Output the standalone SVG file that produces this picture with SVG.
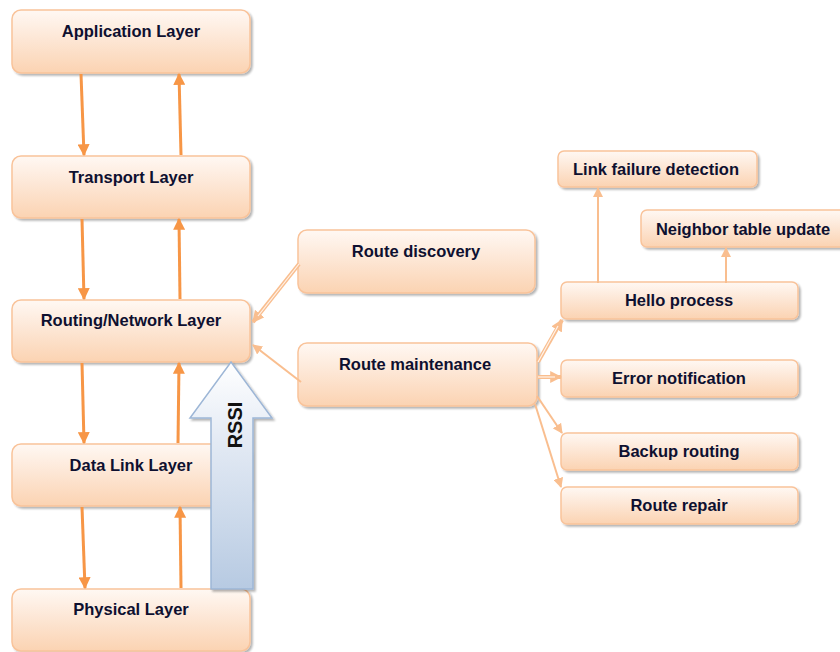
<svg xmlns="http://www.w3.org/2000/svg" width="840" height="652" viewBox="0 0 840 652">
  <defs>
    <linearGradient id="boxFill" x1="0" y1="0" x2="0" y2="1">
      <stop offset="0" stop-color="#FFF8F3"/>
      <stop offset="0.45" stop-color="#FDE7D6"/>
      <stop offset="1" stop-color="#FBD3B2"/>
    </linearGradient>
    <linearGradient id="rssiFill" x1="0" y1="0" x2="0" y2="1">
      <stop offset="0" stop-color="#FFFFFF"/>
      <stop offset="0.35" stop-color="#E3EAF4"/>
      <stop offset="1" stop-color="#B7CAE2"/>
    </linearGradient>
    <filter id="shadow" x="-10%" y="-20%" width="120%" height="150%">
      <feGaussianBlur in="SourceAlpha" stdDeviation="1.2"/>
      <feOffset dx="1.5" dy="2" result="b"/>
      <feComponentTransfer><feFuncA type="linear" slope="0.3"/></feComponentTransfer>
      <feMerge><feMergeNode/><feMergeNode in="SourceGraphic"/></feMerge>
    </filter>
    <marker id="headLayer" viewBox="0 0 10 10" refX="9" refY="5" markerWidth="4" markerHeight="4" orient="auto" markerUnits="strokeWidth">
      <path d="M0,0 L10,5 L0,10 Z" fill="#F79646"/>
    </marker>
    <marker id="headLight" viewBox="0 0 10 10" refX="9" refY="5" markerWidth="5" markerHeight="5" orient="auto" markerUnits="strokeWidth">
      <path d="M0,0 L10,5 L0,10 Z" fill="#F9BE8F"/>
    </marker>
    <marker id="headHollow" viewBox="0 0 10 10" refX="9" refY="5" markerWidth="3" markerHeight="3" orient="auto" markerUnits="strokeWidth">
      <path d="M0,0 L10,5 L0,10 Z" fill="#F9BE8F"/>
    </marker>
  </defs>
  <style>
    .box { fill: url(#boxFill); stroke: #F9C39A; stroke-width: 1.5; filter: url(#shadow); }
    .lbl { font-family: "Liberation Sans", Arial, sans-serif; font-weight: bold; font-size: 16.5px; fill: #0E1030; text-anchor: middle; }
    .layer { stroke: #F79646; stroke-width: 3; fill: none; marker-end: url(#headLayer); }
    .thin { stroke: #F9BE8F; stroke-width: 2; fill: none; marker-end: url(#headLight); }
    .dbl { stroke: #F9BE8F; stroke-width: 4; fill: none; marker-end: url(#headHollow); }
    .dblIn { stroke: #FFF3EA; stroke-width: 1.2; fill: none; }
  </style>

  <!-- protocol stack -->
  <g id="application-layer">
    <rect class="box" x="12" y="10" width="238" height="63" rx="9"/>
    <text class="lbl" x="131" y="37">Application Layer</text>
  </g>
  <g id="transport-layer">
    <rect class="box" x="12" y="156" width="238" height="62" rx="9"/>
    <text class="lbl" x="131" y="183">Transport Layer</text>
  </g>
  <g id="network-layer">
    <rect class="box" x="12" y="300" width="238" height="62" rx="9"/>
    <text class="lbl" x="131" y="326">Routing/Network Layer</text>
  </g>
  <g id="datalink-layer">
    <rect class="box" x="12" y="444" width="238" height="62" rx="9"/>
    <text class="lbl" x="131" y="471">Data Link Layer</text>
  </g>
  <g id="physical-layer">
    <rect class="box" x="12" y="589" width="238" height="62" rx="9"/>
    <text class="lbl" x="131" y="615">Physical Layer</text>
  </g>

  <!-- routing functions -->
  <g id="route-discovery">
    <rect class="box" x="298" y="230" width="237" height="63" rx="9"/>
    <text class="lbl" x="416" y="257">Route discovery</text>
  </g>
  <g id="route-maintenance">
    <rect class="box" x="298" y="343" width="239" height="63" rx="9"/>
    <text class="lbl" x="415" y="370">Route maintenance</text>
  </g>

  <!-- maintenance tasks -->
  <g id="link-failure-detection">
    <rect class="box" x="558" y="151" width="199" height="36" rx="6"/>
    <text class="lbl" x="656" y="175">Link failure detection</text>
  </g>
  <g id="neighbor-table-update">
    <rect class="box" x="641" y="210" width="205" height="37" rx="6"/>
    <text class="lbl" x="743" y="235">Neighbor table update</text>
  </g>
  <g id="hello-process">
    <rect class="box" x="561" y="282" width="237" height="37" rx="6"/>
    <text class="lbl" x="679" y="306">Hello process</text>
  </g>
  <g id="error-notification">
    <rect class="box" x="561" y="360" width="237" height="37" rx="6"/>
    <text class="lbl" x="679" y="384">Error notification</text>
  </g>
  <g id="backup-routing">
    <rect class="box" x="561" y="433" width="237" height="37" rx="6"/>
    <text class="lbl" x="679" y="457">Backup routing</text>
  </g>
  <g id="route-repair">
    <rect class="box" x="561" y="487" width="237" height="37" rx="6"/>
    <text class="lbl" x="679" y="511">Route repair</text>
  </g>

  <!-- RSSI block arrow -->
  <g id="rssi">
    <polygon points="231,362 272,418 253,418 253,589 211,589 211,418 190,418" fill="url(#rssiFill)" stroke="#9DB6D6" stroke-width="1.5" filter="url(#shadow)"/>
    <text x="242" y="425" transform="rotate(-90 242 425)" font-family="Liberation Sans, Arial, sans-serif" font-weight="bold" font-size="20" fill="#111" text-anchor="middle">RSSI</text>
  </g>

  <g id="connectors">
    <!-- stack: downward -->
    <line class="layer" x1="81" y1="74" x2="84" y2="155"/>
    <line class="layer" x1="82" y1="219" x2="84" y2="299"/>
    <line class="layer" x1="82" y1="363" x2="84" y2="443"/>
    <line class="layer" x1="82" y1="507" x2="85" y2="588"/>
    <!-- stack: upward -->
    <line class="layer" x1="181" y1="155" x2="179" y2="74"/>
    <line class="layer" x1="180" y1="299" x2="179" y2="219"/>
    <line class="layer" x1="178" y1="443" x2="179" y2="363"/>
    <line class="layer" x1="181" y1="588" x2="180" y2="507"/>

    <!-- routing functions to network layer -->
    <line class="dbl" x1="299" y1="264" x2="253" y2="322"/>
    <line class="dblIn" x1="299" y1="264" x2="258" y2="316"/>
    <line class="thin" x1="301" y1="382" x2="253" y2="345"/>

    <!-- route maintenance to tasks -->
    <line class="dbl" x1="538" y1="362" x2="562" y2="320"/>
    <line class="dblIn" x1="538" y1="362" x2="558" y2="326"/>
    <line class="dbl" x1="538" y1="377" x2="561" y2="377"/>
    <line class="dblIn" x1="538" y1="377" x2="555" y2="377"/>
    <line class="thin" x1="537" y1="396" x2="562" y2="433"/>
    <line class="thin" x1="535" y1="404" x2="561" y2="487"/>

    <!-- hello process outputs -->
    <line class="thin" x1="598" y1="283" x2="598" y2="188"/>
    <line class="thin" x1="726" y1="283" x2="726" y2="248"/>
  </g>
</svg>
